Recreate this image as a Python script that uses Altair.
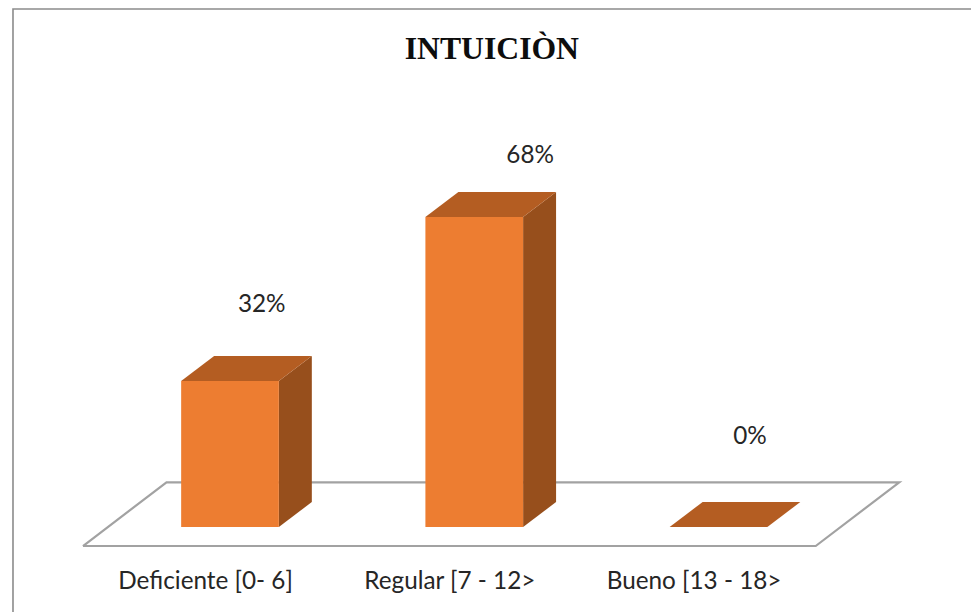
import altair as alt
import pandas as pd

# Chart content
TITLE = "INTUICIÒN"
categories = ["Deficiente [0- 6]", "Regular [7 - 12>", "Bueno [13 - 18>"]
percentages = [32, 68, 0]

# Box geometry in scale units: x is the category slot index, y is percent
BAR_WIDTH = 0.4
DEPTH_X = 0.135
DEPTH_Y = 5.48
FLOOR_LEFT = -0.602
FLOOR_RIGHT = 2.398
FLOOR_DEPTH_X = 0.342
FLOOR_FRONT = -4.17
FLOOR_BACK = 9.8
LABEL_SHIFT = -0.1
value_label_dx = [0.13, 0.229, 0.129]
value_label_lift = [16.7, 13.3, 19.8]

FRONT = "#ED7D31"
TOP = "#B45D22"
SIDE = "#974F1C"
GREY = "#A2A2A2"

x_scale = alt.Scale(domain=[-0.9417, 3.0338], range=[0, 971], nice=False, zero=False)
y_scale = alt.Scale(domain=[-18.64, 115.57], range=[612, 0], nice=False, zero=False)
X = lambda f: alt.X(f, type="quantitative", scale=x_scale, axis=None)
Y = lambda f: alt.Y(f, type="quantitative", scale=y_scale, axis=None)

front_rows, top_rows, side_rows = [], [], []
for i, v in enumerate(percentages):
    x0 = i - BAR_WIDTH / 2
    x1 = i + BAR_WIDTH / 2
    front_rows.append(dict(x=x0, x2=x1, y=0, y2=v))
    top_rows += [
        dict(bar=i, x=x0, y=v, y2=v),
        dict(bar=i, x=x0 + DEPTH_X, y=v, y2=v + DEPTH_Y),
        dict(bar=i, x=x1, y=v, y2=v + DEPTH_Y),
        dict(bar=i, x=x1 + DEPTH_X, y=v + DEPTH_Y, y2=v + DEPTH_Y),
    ]
    side_rows += [
        dict(bar=i, x=x1, y=0, y2=v),
        dict(bar=i, x=x1 + DEPTH_X, y=DEPTH_Y, y2=v + DEPTH_Y),
    ]

floor_rows = [
    dict(o=0, x=FLOOR_LEFT, y=FLOOR_FRONT),
    dict(o=1, x=FLOOR_RIGHT, y=FLOOR_FRONT),
    dict(o=2, x=FLOOR_RIGHT + FLOOR_DEPTH_X, y=FLOOR_BACK),
    dict(o=3, x=FLOOR_LEFT + FLOOR_DEPTH_X, y=FLOOR_BACK),
    dict(o=4, x=FLOOR_LEFT, y=FLOOR_FRONT),
]

frame_rows = [
    dict(o=0, x=-0.8885, y=-18.64),
    dict(o=1, x=-0.8885, y=113.6),
    dict(o=2, x=3.0338, y=113.6),
]

floor = (
    alt.Chart(pd.DataFrame(floor_rows))
    .mark_line(color=GREY, strokeWidth=2.2, strokeJoin="miter")
    .encode(x=X("x"), y=Y("y"), order="o:Q")
)
frame = (
    alt.Chart(pd.DataFrame(frame_rows))
    .mark_line(color="#8C8C8C", strokeWidth=1.6, strokeJoin="miter")
    .encode(x=X("x"), y=Y("y"), order="o:Q")
)
side = (
    alt.Chart(pd.DataFrame(side_rows))
    .mark_area(color=SIDE, orient="vertical", opacity=1)
    .encode(x=X("x"), y=Y("y"), y2="y2:Q", detail="bar:N")
)
top = (
    alt.Chart(pd.DataFrame(top_rows))
    .mark_area(color=TOP, orient="vertical", opacity=1)
    .encode(x=X("x"), y=Y("y"), y2="y2:Q", detail="bar:N")
)
front = (
    alt.Chart(pd.DataFrame(front_rows))
    .mark_rect(color=FRONT)
    .encode(x=X("x"), x2="x2:Q", y=Y("y"), y2="y2:Q")
)

value_labels = (
    alt.Chart(
        pd.DataFrame(
            dict(
                x=[i + d for i, d in enumerate(value_label_dx)],
                y=[v + l for v, l in zip(percentages, value_label_lift)],
                t=[f"{v}%" for v in percentages],
            )
        )
    )
    .mark_text(font="Lato", fontSize=24.3, color="#262626", baseline="middle")
    .encode(x=X("x"), y=Y("y"), text="t:N")
)
category_labels = (
    alt.Chart(
        pd.DataFrame(
            dict(
                x=[i + LABEL_SHIFT for i in range(len(categories))],
                y=[-12.1] * len(categories),
                t=categories,
            )
        )
    )
    .mark_text(font="Lato", fontSize=24.3, color="#262626", baseline="middle")
    .encode(x=X("x"), y=Y("y"), text="t:N")
)
title = (
    alt.Chart(pd.DataFrame(dict(x=[1.072], y=[104.8], t=[TITLE])))
    .mark_text(font="Liberation Serif", fontSize=31.7, fontWeight="bold", color="#0D0D0D", baseline="middle")
    .encode(x=X("x"), y=Y("y"), text="t:N")
)

chart = (
    alt.layer(frame, floor, side, top, front, value_labels, category_labels, title)
    .properties(width=971, height=612, padding=0, background="white",
                autosize=alt.AutoSizeParams(type="none"))
    .configure_view(stroke=None)
)

chart.save("out.html", embed_options={"renderer": "svg", "actions": False})
